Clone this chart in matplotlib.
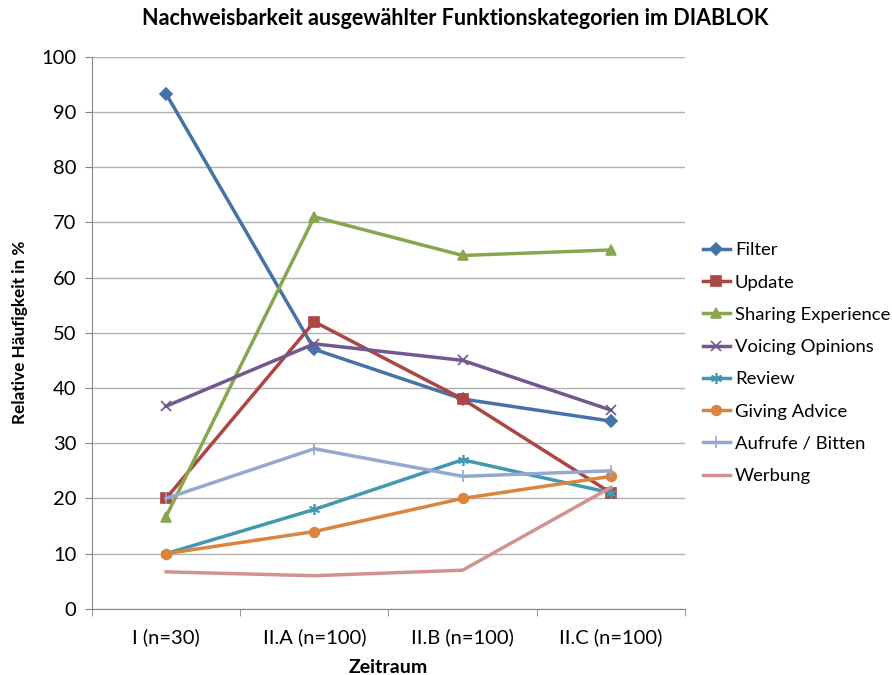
import matplotlib
matplotlib.use("Agg")
import matplotlib.pyplot as plt
import numpy as np

plt.rcParams['font.family'] = ['Lato', 'DejaVu Sans']

periods = ["I (n=30)", "II.A (n=100)", "II.B (n=100)", "II.C (n=100)"]
filter_vals = [93.3, 47, 38, 34]
update_vals = [20, 52, 38, 21]
sharing_vals = [16.7, 71, 64, 65]
voicing_vals = [36.7, 48, 45, 36]
review_vals = [10, 18, 27, 21]
advice_vals = [10, 14, 20, 24]
aufrufe_vals = [20, 29, 24, 25]
werbung_vals = [6.7, 6, 7, 22]

series = [
    ("Filter", filter_vals, "#4572A7", "D", 6),
    ("Update", update_vals, "#AA4643", "s", 7),
    ("Sharing Experience", sharing_vals, "#89A54E", "^", 7),
    ("Voicing Opinions", voicing_vals, "#71588F", "x", 7),
    ("Review", review_vals, "#4198AF", (6, 2, 0), 8),
    ("Giving Advice", advice_vals, "#DB843D", "o", 7),
    ("Aufrufe / Bitten", aufrufe_vals, "#93A9CF", "|", 9),
    ("Werbung", werbung_vals, "#D19392", None, 0),
]

fig = plt.figure(figsize=(8.92, 6.75), dpi=100)
ax = fig.add_axes([0.103, 0.098, 0.665, 0.818])

x = np.arange(len(periods))
for name, vals, color, marker, ms in series:
    ax.plot(x, vals, color=color, lw=2.5, marker=marker, markersize=ms,
            markeredgecolor=color, markerfacecolor=color, markeredgewidth=1.2,
            label=name)

ax.set_xlim(-0.5, 3.5)
ax.set_ylim(0, 100)
ax.set_yticks(range(0, 101, 10))
ax.set_xticks(x)
ax.set_xticklabels(periods)
ax.set_xticks(np.arange(-0.5, 3.6, 1), minor=True)
ax.tick_params(axis='x', which='major', length=0, pad=14, labelsize=14.5)
ax.tick_params(axis='x', which='minor', length=5, color='#868686')
ax.tick_params(axis='y', length=5, color='#868686', labelsize=14.5, pad=6)

ax.grid(axis='y', color='#B0B0B0', lw=1)
ax.set_axisbelow(True)
for side in ['top', 'right']:
    ax.spines[side].set_visible(False)
for side in ['left', 'bottom']:
    ax.spines[side].set_color('#868686')

ax.set_xlabel("Zeitraum", fontsize=14, fontweight='bold', labelpad=9)
ax.set_ylabel("Relative Häufigkeit in %", fontsize=12.3, fontweight='bold', labelpad=10)
fig.suptitle("Nachweisbarkeit ausgewählter Funktionskategorien im DIABLOK",
             fontsize=15.5, fontweight='bold', x=0.51, y=0.988)

ax.legend(loc='center left', bbox_to_anchor=(1.03, 0.445), frameon=False,
          fontsize=13.3, handlelength=1.46, labelspacing=0.88, borderaxespad=0,
          borderpad=0, handletextpad=0.27)

fig.savefig("out.png", dpi=100)
